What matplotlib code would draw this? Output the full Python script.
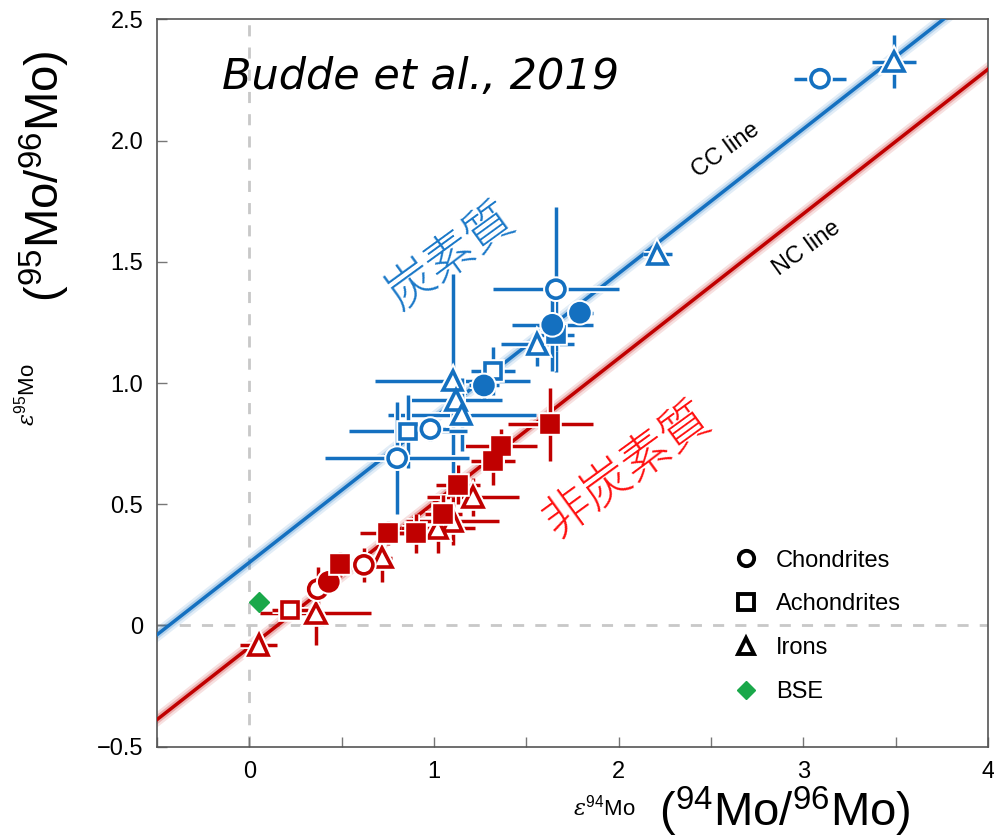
import numpy as np
import matplotlib
matplotlib.use("Agg")
from matplotlib import pyplot as plt
from matplotlib.lines import Line2D
import matplotlib.patheffects as pe

plt.rcParams['font.family'] = ['Liberation Sans', 'DejaVu Sans']
plt.rcParams['mathtext.fontset'] = 'custom'
plt.rcParams['mathtext.rm'] = 'Liberation Sans'
plt.rcParams['mathtext.it'] = 'DejaVu Serif:italic'

blue = '#1470c0'
red = '#c00000'

# CC (carbonaceous) group: x, y, xerr, yerr
cc_oc_x = [3.09, 1.66, 0.98, 0.80]
cc_oc_y = [2.255, 1.387, 0.81, 0.69]
cc_oc_xe = [0.14, 0.34, 0.10, 0.39]
cc_oc_ye = [0.02, 0.34, 0.05, 0.23]

cc_fc_x = [1.79, 1.64, 1.27]
cc_fc_y = [1.29, 1.24, 0.99]
cc_fc_xe = [0.07, 0.22, 0.08]
cc_fc_ye = [0.02, 0.19, 0.05]

cc_fs_x = [1.66]
cc_fs_y = [1.20]
cc_fs_xe = [0.10]
cc_fs_ye = [0.07]

cc_os_x = [1.32, 0.86]
cc_os_y = [1.05, 0.80]
cc_os_xe = [0.12, 0.32]
cc_os_ye = [0.10, 0.15]

cc_ot_x = [3.49, 2.21, 1.56, 1.10, 1.12, 1.15]
cc_ot_y = [2.325, 1.53, 1.16, 1.01, 0.93, 0.87]
cc_ot_xe = [0.12, 0.08, 0.20, 0.42, 0.25, 0.40]
cc_ot_ye = [0.11, 0.03, 0.09, 0.44, 0.10, 0.15]

# NC (non-carbonaceous) group
nc_fs_x = [1.63, 1.36, 1.32, 1.13, 1.05, 0.90, 0.75, 0.49]
nc_fs_y = [0.83, 0.74, 0.68, 0.58, 0.46, 0.38, 0.38, 0.255]
nc_fs_xe = [0.23, 0.20, 0.12, 0.12, 0.10, 0.10, 0.15, 0.04]
nc_fs_ye = [0.15, 0.07, 0.10, 0.08, 0.08, 0.08, 0.05, 0.05]

nc_fc_x = [0.43]
nc_fc_y = [0.18]
nc_fc_xe = [0.06]
nc_fc_ye = [0.04]

nc_oc_x = [0.62, 0.37]
nc_oc_y = [0.25, 0.15]
nc_oc_xe = [0.05, 0.07]
nc_oc_ye = [0.07, 0.09]

nc_os_x = [0.22]
nc_os_y = [0.065]
nc_os_xe = [0.10]
nc_os_ye = [0.03]

nc_ot_x = [0.05, 0.36, 0.72, 1.21, 1.10, 1.02]
nc_ot_y = [-0.08, 0.05, 0.28, 0.53, 0.43, 0.40]
nc_ot_xe = [0.10, 0.30, 0.05, 0.25, 0.25, 0.20]
nc_ot_ye = [0.03, 0.13, 0.10, 0.08, 0.10, 0.10]

bse_x = [0.05]
bse_y = [0.095]

cc_slope, cc_int = 0.596, 0.26
nc_slope, nc_int = 0.596, -0.09

fig = plt.figure(figsize=(9.94, 8.39), dpi=100)
ax = fig.add_axes([0.158, 0.110, 0.836, 0.867])
ax.set_xlim(-0.5, 4)
ax.set_ylim(-0.5, 2.5)

ax.axvline(0, color='#c8c8c8', lw=2, ls=(0, (4, 4)), zorder=1)
ax.axhline(0, color='#c8c8c8', lw=2, ls=(0, (4, 4)), zorder=1)

xl = np.array([-0.5, 4])
for s, b, c in [(cc_slope, cc_int, blue), (nc_slope, nc_int, red)]:
    ax.plot(xl, s * xl + b, color=c, lw=9, alpha=0.12, zorder=2)
    ax.plot(xl, s * xl + b, color=c, lw=5.5, alpha=0.22, zorder=2)
    ax.plot(xl, s * xl + b, color=c, lw=2.5, zorder=3)

halo = [pe.Stroke(linewidth=5, foreground='white'), pe.Normal()]


def draw(x, y, xe, ye, marker, color, filled):
    eb = ax.errorbar(x, y, xerr=xe, yerr=ye, fmt='none', ecolor=color,
                     elinewidth=2.5, capsize=0, zorder=4)
    for lc in eb.lines[2]:
        lc.set_path_effects(halo)
    ms = {'o': 13, 's': 11.5, '^': 14}[marker]
    ax.plot(x, y, ls='none', marker=marker, ms=ms, mew=2.6, mec=color,
            mfc=color if filled else 'white', zorder=5,
            path_effects=[pe.Stroke(linewidth=5.5, foreground='white'), pe.Normal()])


draw(nc_ot_x, nc_ot_y, nc_ot_xe, nc_ot_ye, '^', red, False)
draw(nc_os_x, nc_os_y, nc_os_xe, nc_os_ye, 's', red, False)
draw(nc_oc_x, nc_oc_y, nc_oc_xe, nc_oc_ye, 'o', red, False)
draw(nc_fc_x, nc_fc_y, nc_fc_xe, nc_fc_ye, 'o', red, True)
draw(nc_fs_x, nc_fs_y, nc_fs_xe, nc_fs_ye, 's', red, True)

draw(cc_ot_x, cc_ot_y, cc_ot_xe, cc_ot_ye, '^', blue, False)
draw(cc_os_x, cc_os_y, cc_os_xe, cc_os_ye, 's', blue, False)
draw(cc_oc_x, cc_oc_y, cc_oc_xe, cc_oc_ye, 'o', blue, False)
draw(cc_fs_x, cc_fs_y, cc_fs_xe, cc_fs_ye, 's', blue, True)
draw(cc_fc_x, cc_fc_y, cc_fc_xe, cc_fc_ye, 'o', blue, True)

ax.plot(bse_x, bse_y, ls='none', marker='D', ms=10, color='#1aa84a', mec='#1aa84a', zorder=5)

ax.set_xticks([0, 1, 2, 3, 4])
ax.set_xticks([-0.5, 0.5, 1.5, 2.5, 3.5], minor=True)
ax.set_yticks([-0.5, 0, 0.5, 1.0, 1.5, 2.0, 2.5])
ax.set_yticklabels(['\u22120.5', '0', '0.5', '1.0', '1.5', '2.0', '2.5'])
ax.tick_params(which='both', direction='in', length=7, width=1, color='#777777',
               labelsize=17, pad=10)
for sp in ax.spines.values():
    sp.set_color('#555555')
    sp.set_linewidth(1.2)

fig.text(0.027, 0.53, r'$\varepsilon^{95}$Mo', rotation=90, fontsize=16, ha='center', va='center')
fig.text(0.045, 0.79, r'($^{95}$Mo/$^{96}$Mo)', rotation=90, fontsize=34, ha='center', va='center')
fig.text(0.608, 0.037, r'$\varepsilon^{94}$Mo', fontsize=16, ha='center', va='center')
fig.text(0.79, 0.032, r'($^{94}$Mo/$^{96}$Mo)', fontsize=34, ha='center', va='center')

ax.text(-0.15, 2.26, 'Budde et al., 2019', fontsize=31, style='italic',
        family=['DejaVu Sans'], ha='left', va='center')
ax.text(1.09, 1.52, '炭素質', fontsize=35, color='#1a78c8', rotation=36,
        family=['Noto Sans CJK JP'], weight='light', ha='center', va='center')
ax.text(2.05, 0.64, '非炭素質', fontsize=35, color='#ff1010', rotation=36,
        family=['Noto Sans CJK JP'], weight='light', ha='center', va='center')
ax.text(2.58, 1.96, 'CC line', fontsize=17, rotation=36, ha='center', va='center')
ax.text(3.02, 1.555, 'NC line', fontsize=17, rotation=36, ha='center', va='center')

handles = [
    Line2D([], [], ls='none', marker='o', ms=11, mew=2.8, mec='black', mfc='white'),
    Line2D([], [], ls='none', marker='s', ms=11, mew=2.8, mec='black', mfc='white'),
    Line2D([], [], ls='none', marker='^', ms=12, mew=2.8, mec='black', mfc='white'),
    Line2D([], [], ls='none', marker='D', ms=9, color='#1aa84a'),
]
ax.legend(handles, ['Chondrites', 'Achondrites', 'Irons', 'BSE'], loc='upper left',
          bbox_to_anchor=(0.662, 0.3), frameon=False, fontsize=17,
          labelspacing=0.92, handletextpad=0.5, handlelength=1.5)

fig.savefig('out.png', dpi=100)
